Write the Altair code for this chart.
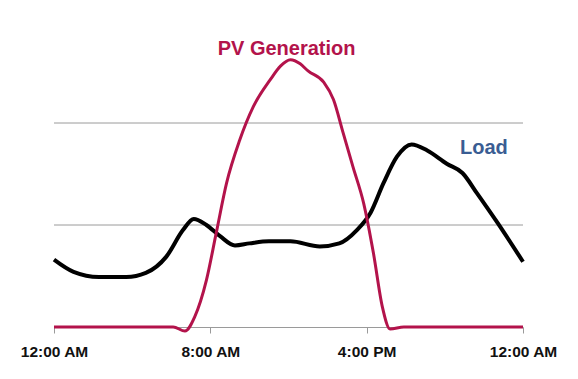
import altair as alt
import pandas as pd

load_hours = [0, 1, 2.3, 3.7, 4.7, 5.75, 6.6, 7.15, 7.8, 8.5, 9.26, 10, 11, 12.1, 13.6,
              14.6, 15.5, 16.2, 16.86, 17.55, 18.3, 19.1, 20.1, 20.9, 21.65, 22.7, 24]
load_values = [0.66, 0.54, 0.49, 0.49, 0.53, 0.69, 0.95, 1.06, 1.0, 0.89, 0.80, 0.82, 0.84,
               0.84, 0.79, 0.82, 0.95, 1.12, 1.41, 1.67, 1.79, 1.73, 1.60, 1.51, 1.31, 1.02, 0.64]

pv_hours = [0, 6.1, 6.7, 7.2, 7.8, 8.3, 8.83, 9.5, 10.2, 11.05, 11.6, 12.1, 12.6, 13.0, 13.8,
            14.3, 14.8, 15.3, 15.85, 16.35, 16.8, 17.2, 17.9, 24]
pv_values = [0, 0, -0.04, 0.1, 0.46, 0.92, 1.41, 1.83, 2.16, 2.42, 2.56, 2.62, 2.58, 2.51, 2.40,
             2.23, 1.90, 1.57, 1.21, 0.72, 0.20, -0.02, 0, 0]

grid_values = [1, 2]

tick_hours = [0, 8, 16, 24]
tick_labels = ["12:00 AM", "8:00 AM", "4:00 PM", "12:00 AM"]

label_text = ["PV Generation", "Load"]
label_hours = [11.9, 22.0]
label_values = [2.73, 1.755]
label_colors = ["#B3134B", "#3A5D93"]

load_df = pd.DataFrame({"hour": load_hours, "value": load_values})
pv_df = pd.DataFrame({"hour": pv_hours, "value": pv_values})
grid_df = pd.DataFrame({"value": grid_values})
lab_df = pd.DataFrame({"hour": label_hours, "value": label_values,
                       "text": label_text, "color": label_colors})

label_map = "{" + ",".join(f"'{h}':'{l}'" for h, l in zip(tick_hours, tick_labels)) + "}"

x = alt.X("hour:Q", scale=alt.Scale(domain=[0, 24], nice=False, zero=False),
          axis=alt.Axis(values=tick_hours, labelExpr=f"{label_map}[datum.value]",
                        grid=False, domainColor="#9a9a9a", tickColor="#9a9a9a",
                        tickSize=6, labelFont="Liberation Sans", labelFontSize=15.5,
                        labelFontWeight="bold", labelColor="#111111", labelPadding=11,
                        title=None, labelFlush=False, labelOverlap=False))
y = alt.Y("value:Q", scale=alt.Scale(domain=[0, 3], nice=False), axis=None)

grid = alt.Chart(grid_df).mark_rule(color="#9a9a9a", strokeWidth=1).encode(
    y=y, x=alt.value(0), x2=alt.value(469))
load_line = alt.Chart(load_df).mark_line(color="#000000", strokeWidth=4,
                                         interpolate="monotone").encode(x=x, y=y)
pv_line = alt.Chart(pv_df).mark_line(color="#B3134B", strokeWidth=3,
                                     interpolate="monotone", clip=False).encode(x=x, y=y)
labels = alt.Chart(lab_df).mark_text(font="Liberation Sans", fontSize=20,
                                     fontWeight="bold", align="center",
                                     baseline="middle").encode(
    x=x, y=y,
    text="text:N", color=alt.Color("color:N", scale=None))

chart = alt.layer(grid, load_line, pv_line, labels).properties(
    width=469, height=306,
    padding={"left": 46, "top": 13, "right": 40, "bottom": 40},
    autosize=alt.AutoSizeParams(type="none"),
).configure(background="white").configure_view(strokeWidth=0, stroke="transparent")

chart.save("out.html", embed_options={"renderer": "svg", "actions": False})
